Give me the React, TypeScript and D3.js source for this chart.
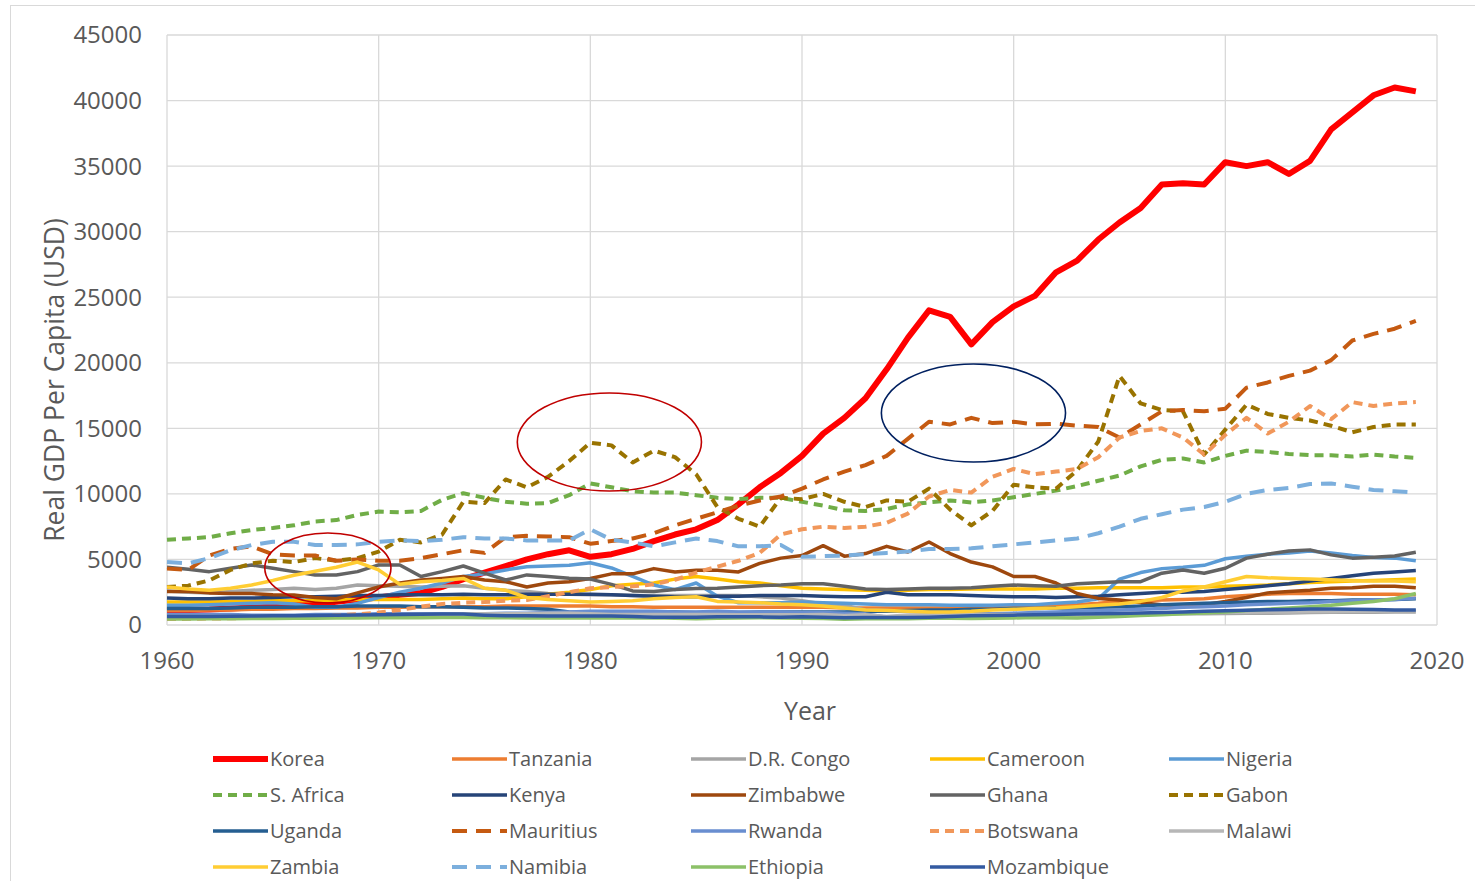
import { scaleLinear, line, range } from "d3";

const WIDTH = 1475;
const HEIGHT = 881;
const MARGIN = { top: 35, right: 38, bottom: 256, left: 167 };
const FONT = "'Open Sans', 'Noto Sans', sans-serif";

const years = range(1960, 2020);
const yTicks = [0, 5000, 10000, 15000, 20000, 25000, 30000, 35000, 40000, 45000];
const xTicks = [1960, 1970, 1980, 1990, 2000, 2010, 2020];

// values, 1960..2019
const korea = [
  1100, 1150, 1180, 1260, 1330, 1390, 1510, 1600, 1770, 1950,
  2100, 2300, 2450, 2900, 3500, 4000, 4500, 5000, 5400, 5700,
  5200, 5400, 5800, 6400, 6900, 7300, 8000, 9200, 10500, 11600,
  12900, 14600, 15800, 17300, 19500, 21900, 24000, 23500, 21400, 23100,
  24300, 25100, 26900, 27800, 29400, 30700, 31800, 33600, 33700, 33600,
  35300, 35000, 35300, 34400, 35400, 37800, 39100, 40400, 41000, 40700,
];
const tanzania = [
  1100, 1100, 1150, 1150, 1200, 1200, 1250, 1250, 1300, 1300,
  1350, 1350, 1400, 1400, 1400, 1400, 1450, 1450, 1450, 1450,
  1450, 1400, 1400, 1350, 1350, 1350, 1350, 1350, 1350, 1350,
  1350, 1350, 1300, 1300, 1300, 1300, 1300, 1300, 1300, 1350,
  1400, 1450, 1500, 1550, 1650, 1800, 1850, 1900, 1950, 2000,
  2150, 2250, 2350, 2400, 2400, 2400, 2350, 2350, 2350, 2300,
];
const drCongo = [
  2600, 2500, 2450, 2550, 2650, 2700, 2800, 2700, 2800, 3050,
  3000, 2950, 2900, 2950, 3000, 2800, 2650, 2550, 2400, 2350,
  2300, 2300, 2250, 2250, 2250, 2250, 2250, 2250, 2150, 2050,
  1850, 1600, 1500, 1150, 1100, 1050, 1000, 950, 900, 850,
  800, 780, 780, 800, 800, 820, 830, 840, 850, 850,
  870, 890, 900, 920, 950, 970, 970, 980, 990, 1000,
];
const cameroon = [
  1750, 1750, 1750, 1800, 1800, 1850, 1850, 1850, 1900, 1950,
  1950, 1950, 1950, 2000, 2050, 2000, 2000, 2150, 2350, 2500,
  2700, 3000, 3100, 3200, 3500, 3700, 3500, 3300, 3200, 3000,
  2800, 2750, 2700, 2650, 2600, 2650, 2700, 2700, 2750, 2750,
  2750, 2750, 2800, 2800, 2850, 2850, 2850, 2850, 2900, 2900,
  2950, 3000, 3050, 3150, 3250, 3300, 3350, 3400, 3450, 3500,
];
const nigeria = [
  1500, 1500, 1550, 1600, 1650, 1700, 1600, 1350, 1350, 1650,
  2100, 2500, 2800, 3200, 3700, 3900, 4200, 4450, 4500, 4550,
  4750, 4350, 3700, 3050, 2700, 3200, 2200, 1700, 1700, 1700,
  1750, 1700, 1650, 1600, 1550, 1550, 1550, 1500, 1500, 1500,
  1550, 1550, 1650, 1750, 2000, 3500, 4000, 4300, 4400, 4550,
  5050, 5250, 5400, 5500, 5650, 5500, 5300, 5150, 5100, 4900,
];
const sAfrica = [
  6500, 6600, 6700, 7000, 7250, 7400, 7600, 7900, 8000, 8400,
  8650, 8600, 8700, 9550, 10050, 9700, 9400, 9250, 9300, 9900,
  10800, 10500, 10200, 10100, 10100, 9900, 9700, 9600, 9700, 9700,
  9400, 9100, 8750, 8700, 8850, 9200, 9350, 9500, 9350, 9500,
  9750, 10000, 10250, 10600, 11000, 11400, 12100, 12600, 12700, 12400,
  12900, 13300, 13200, 13050, 12950, 12950, 12850, 13000, 12850, 12750,
];
const kenya = [
  2050, 2000, 2000, 2050, 2050, 2100, 2150, 2150, 2200, 2250,
  2250, 2300, 2300, 2300, 2350, 2300, 2300, 2350, 2350, 2350,
  2350, 2300, 2250, 2200, 2150, 2150, 2200, 2200, 2250, 2250,
  2250, 2200, 2150, 2150, 2500, 2300, 2300, 2300, 2250, 2200,
  2150, 2150, 2100, 2150, 2200, 2300, 2400, 2500, 2500, 2550,
  2700, 2850, 3000, 3150, 3350, 3550, 3750, 3950, 4050, 4150,
];
const zimbabwe = [
  2550, 2550, 2450, 2400, 2400, 2300, 2280, 2100, 2000, 2450,
  2900, 3200, 3430, 3550, 3700, 3430, 3300, 2900, 3200, 3300,
  3550, 3900, 3900, 4300, 4050, 4180, 4180, 4050, 4700, 5100,
  5300, 6050, 5250, 5450, 6000, 5570, 6330, 5450, 4800, 4430,
  3700, 3700, 3200, 2400, 2030, 1900, 1700, 1550, 1450, 1550,
  1800, 2100, 2450, 2550, 2650, 2800, 2850, 2950, 2950, 2850,
];
const ghana = [
  4400, 4250, 4070, 4330, 4580, 4330, 4070, 3820, 3820, 4070,
  4580, 4580, 3700, 4070, 4500, 3950, 3430, 3820, 3700, 3570,
  3500, 3100, 2600, 2550, 2700, 2780, 2800, 2900, 3000, 3050,
  3150, 3150, 2950, 2750, 2700, 2750, 2800, 2800, 2850, 2950,
  3050, 3000, 2950, 3150, 3230, 3300, 3300, 3950, 4200, 3950,
  4330, 5100, 5400, 5650, 5730, 5350, 5100, 5170, 5270, 5550,
];
const gabon = [
  2900, 3000, 3400, 4200, 4700, 4900, 4800, 5100, 4900, 5100,
  5600, 6500, 6300, 6900, 9400, 9300, 11100, 10500, 11300, 12500,
  13900, 13700, 12400, 13300, 12800, 11500, 9000, 8100, 7500, 9700,
  9600, 10000, 9400, 9000, 9500, 9400, 10400, 8800, 7600, 8700,
  10700, 10500, 10400, 11800, 14000, 19000, 16900, 16400, 16300, 13000,
  14900, 16800, 16100, 15800, 15600, 15200, 14700, 15100, 15300, 15300,
];
const uganda = [
  1250, 1250, 1250, 1300, 1350, 1350, 1350, 1400, 1400, 1450,
  1450, 1450, 1400, 1400, 1350, 1300, 1300, 1250, 1200, 1000,
  950, 1000, 1000, 1000, 1000, 950, 950, 950, 1000, 1000,
  1000, 1000, 1000, 1050, 1050, 1100, 1150, 1150, 1200, 1200,
  1250, 1250, 1300, 1300, 1350, 1400, 1450, 1550, 1600, 1650,
  1700, 1750, 1800, 1800, 1850, 1850, 1900, 1900, 1950, 2000,
];
const mauritius = [
  4300, 4200, 5300, 5800, 6000, 5400, 5300, 5300, 4900, 5000,
  4900, 4900, 5100, 5400, 5700, 5500, 6700, 6800, 6750, 6700,
  6200, 6400, 6600, 7000, 7600, 8100, 8600, 9100, 9500, 9800,
  10400, 11100, 11700, 12200, 12900, 14200, 15500, 15300, 15800, 15400,
  15500, 15300, 15350, 15200, 15100, 14300, 15300, 16300, 16400, 16300,
  16500, 18100, 18500, 19000, 19400, 20200, 21700, 22200, 22600, 23200,
];
const rwanda = [
  800, 800, 800, 800, 750, 750, 750, 800, 800, 800,
  850, 850, 850, 850, 850, 850, 900, 900, 950, 1000,
  1050, 1050, 1050, 1050, 1000, 1000, 1050, 1000, 1000, 1000,
  950, 950, 900, 850, 600, 700, 750, 800, 820, 850,
  900, 950, 1000, 1050, 1100, 1150, 1200, 1250, 1350, 1400,
  1450, 1550, 1600, 1650, 1700, 1800, 1850, 1900, 1950, 2050,
];
const botswana = [
  450, 470, 490, 510, 540, 570, 600, 650, 730, 820,
  950, 1150, 1400, 1600, 1700, 1750, 1850, 1900, 2200, 2500,
  2800, 2900, 2950, 3100, 3450, 4000, 4450, 4900, 5500, 6900,
  7300, 7500, 7400, 7500, 7800, 8500, 9800, 10300, 10100, 11300,
  11900, 11500, 11700, 11900, 12800, 14300, 14800, 15000, 14300, 13000,
  14500, 15800, 14600, 15500, 16700, 15700, 17000, 16700, 16900, 17000,
];
const malawi = [
  650, 650, 650, 650, 650, 700, 700, 700, 700, 700,
  750, 800, 800, 800, 850, 850, 850, 850, 900, 900,
  850, 800, 800, 800, 800, 800, 800, 780, 780, 780,
  780, 800, 720, 780, 650, 760, 760, 800, 800, 800,
  780, 740, 740, 760, 780, 790, 800, 850, 900, 950,
  980, 980, 1000, 1000, 1030, 1030, 1040, 1050, 1070, 1080,
];
const zambia = [
  2900, 2750, 2650, 2800, 3050, 3400, 3800, 4100, 4400, 4800,
  4200, 3100, 3300, 3400, 3550, 2800, 2650, 2100, 1950, 1850,
  1750, 1800, 1850, 2000, 2100, 2150, 1800, 1750, 1700, 1600,
  1550, 1450, 1300, 1150, 1100, 1050, 1000, 1000, 1050, 1150,
  1200, 1250, 1300, 1400, 1500, 1600, 1800, 2100, 2600, 2900,
  3300, 3700, 3600, 3550, 3500, 3450, 3400, 3350, 3350, 3300,
];
const namibia = [
  4800, 4700, 5100, 5700, 6100, 6350, 6350, 6100, 6100, 6150,
  6350, 6450, 6400, 6500, 6700, 6600, 6600, 6450, 6450, 6450,
  7300, 6500, 6300, 6000, 6300, 6600, 6400, 6000, 6000, 6100,
  5200, 5250, 5300, 5400, 5500, 5600, 5800, 5800, 5850, 6000,
  6150, 6300, 6450, 6600, 7000, 7500, 8100, 8450, 8800, 9000,
  9400, 10000, 10300, 10450, 10750, 10800, 10550, 10300, 10200, 10100,
];
const ethiopia = [
  450, 460, 470, 480, 490, 500, 510, 520, 530, 540,
  550, 560, 560, 570, 570, 560, 550, 540, 530, 530,
  540, 540, 540, 550, 520, 480, 520, 540, 550, 540,
  520, 490, 440, 470, 470, 480, 510, 520, 500, 520,
  540, 570, 560, 540, 600, 650, 720, 790, 860, 920,
  1000, 1100, 1200, 1300, 1400, 1500, 1650, 1800, 2000, 2400,
];
const mozambique = [
  650, 650, 650, 660, 680, 700, 710, 720, 740, 760,
  780, 800, 820, 830, 830, 750, 700, 700, 680, 680,
  680, 680, 650, 600, 600, 600, 620, 620, 620, 600,
  620, 600, 550, 570, 570, 570, 600, 650, 700, 720,
  750, 780, 800, 830, 850, 880, 920, 960, 1000, 1040,
  1080, 1120, 1160, 1190, 1220, 1220, 1200, 1180, 1150, 1150,
];

type Series = { name: string; values: number[]; color: string; width: number; dash?: string };

// legend order (rows of five); also the drawing order, first at the bottom
const series: Series[] = [
  { name: "Korea", values: korea, color: "#FF0000", width: 6 },
  { name: "Tanzania", values: tanzania, color: "#ED7D31", width: 3.5 },
  { name: "D.R. Congo", values: drCongo, color: "#A5A5A5", width: 3.5 },
  { name: "Cameroon", values: cameroon, color: "#FFC000", width: 3.5 },
  { name: "Nigeria", values: nigeria, color: "#5B9BD5", width: 3.5 },
  { name: "S. Africa", values: sAfrica, color: "#70AD47", width: 4, dash: "9,6" },
  { name: "Kenya", values: kenya, color: "#264478", width: 3.5 },
  { name: "Zimbabwe", values: zimbabwe, color: "#9E480E", width: 3.5 },
  { name: "Ghana", values: ghana, color: "#636363", width: 3.5 },
  { name: "Gabon", values: gabon, color: "#997300", width: 4, dash: "9,6" },
  { name: "Uganda", values: uganda, color: "#255E91", width: 3.5 },
  { name: "Mauritius", values: mauritius, color: "#C55A11", width: 4, dash: "15,9" },
  { name: "Rwanda", values: rwanda, color: "#698ED0", width: 3.5 },
  { name: "Botswana", values: botswana, color: "#F1975A", width: 4, dash: "9,6" },
  { name: "Malawi", values: malawi, color: "#B7B7B7", width: 3.5 },
  { name: "Zambia", values: zambia, color: "#FFCD33", width: 3.5 },
  { name: "Namibia", values: namibia, color: "#7CAFDD", width: 4, dash: "15,9" },
  { name: "Ethiopia", values: ethiopia, color: "#8CC168", width: 3.5 },
  { name: "Mozambique", values: mozambique, color: "#335AA1", width: 3.5 },
];

// hand-drawn highlight ellipses: centre year/value, radius in years/value
const circles = [
  { year: 1967.6, value: 4350, rYears: 2.98, rValue: 2670, color: "#C00000" },
  { year: 1980.9, value: 13960, rYears: 4.35, rValue: 3740, color: "#C00000" },
  { year: 1998.1, value: 16170, rYears: 4.35, rValue: 3740, color: "#002060" },
];

export default function App() {
  const innerW = WIDTH - MARGIN.left - MARGIN.right;
  const innerH = HEIGHT - MARGIN.top - MARGIN.bottom;

  const x = scaleLinear().domain([1960, 2020]).range([0, innerW]);
  const y = scaleLinear().domain([0, 45000]).range([innerH, 0]);

  const path = (vals: number[]) =>
    line<number>()
      .x((_, i) => x(years[i]))
      .y((d) => y(d))(vals) ?? undefined;

  return (
    <svg
      width={WIDTH}
      height={HEIGHT}
      style={{ position: "absolute", left: 0, top: 0, background: "#fff" }}
      fontFamily={FONT}
    >
      <rect x={10.5} y={5.5} width={WIDTH - 6} height={HEIGHT} fill="#fff" stroke="#d9d9d9" />
      <g transform={`translate(${MARGIN.left}, ${MARGIN.top})`}>
        {yTicks.map((t) => (
          <g key={t}>
            <line x1={0} x2={innerW} y1={y(t)} y2={y(t)} stroke="#d9d9d9" strokeWidth={1.3} />
            <text x={-25} y={y(t)} dy="0.35em" textAnchor="end" fontSize={24} fill="#595959">
              {t}
            </text>
          </g>
        ))}
        {xTicks.map((t) => (
          <g key={t}>
            <line x1={x(t)} x2={x(t)} y1={0} y2={innerH} stroke="#d9d9d9" strokeWidth={1.3} />
            <text x={x(t)} y={innerH + 44} textAnchor="middle" fontSize={24} fill="#595959">
              {t}
            </text>
          </g>
        ))}
        {series.map((s) => (
          <path
            key={s.name}
            d={path(s.values)}
            fill="none"
            stroke={s.color}
            strokeWidth={s.width}
            strokeDasharray={s.dash}
            strokeLinejoin="round"
          />
        ))}
        {circles.map((c, i) => (
          <ellipse
            key={i}
            cx={x(c.year)}
            cy={y(c.value)}
            rx={x(1960 + c.rYears) - x(1960)}
            ry={y(0) - y(c.rValue)}
            fill="none"
            stroke={c.color}
            strokeWidth={1.6}
          />
        ))}
        <text x={innerW / 2 + 8} y={innerH + 95} textAnchor="middle" fontSize={25} fill="#595959">
          Year
        </text>
      </g>
      <text
        transform={`translate(64, 380) rotate(-90)`}
        textAnchor="middle"
        fontSize={26.5}
        fill="#595959"
      >
        Real GDP Per Capita (USD)
      </text>
      <g>
        {series.map((s, i) => {
          const lx = 213 + (i % 5) * 239;
          const ly = 759 + Math.floor(i / 5) * 36;
          return (
            <g key={s.name} transform={`translate(${lx}, ${ly})`}>
              <line
                x1={0}
                x2={55}
                y1={0}
                y2={0}
                stroke={s.color}
                strokeWidth={s.width}
                strokeDasharray={s.dash}
              />
              <text x={57} y={0} dy="0.35em" fontSize={20} fill="#595959">
                {s.name}
              </text>
            </g>
          );
        })}
      </g>
    </svg>
  );
}
